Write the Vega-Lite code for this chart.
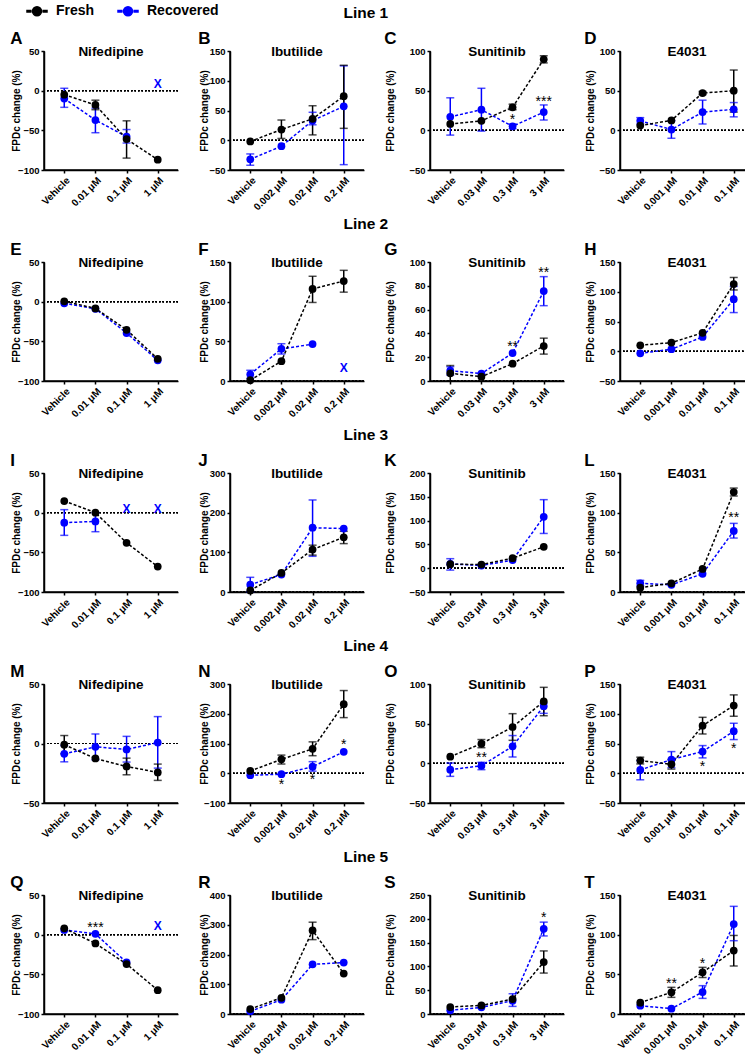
{
"$schema":"https://vega.github.io/schema/vega-lite/v6.json",
"background":"white",
"padding":{"left":10,"top":0,"right":0,"bottom":0},
"spacing":4,
"config":{
 "font":"Liberation Sans",
 "view":{"stroke":"black","strokeWidth":1.5,"strokeDash":[0,253,253,0]},
 "title":{"color":"black","fontWeight":"bold","font":"Liberation Sans"},
 "axis":{"domain":true,"ticks":true,"domainColor":"black","domainWidth":1.5,"tickColor":"black","tickWidth":1.5,"tickSize":3,"labelColor":"black","labelFontWeight":"bold","labelFontSize":9.5,"labelFont":"Liberation Sans","titleFont":"Liberation Sans","titleFontWeight":"bold","titleFontSize":10,"titleColor":"black","grid":false,"labelPadding":2,"labelOverlap":false,"labelBound":false,"labelFlush":false,"zindex":1},
 "axisX":{"labelAngle":-45,"labelFontSize":10,"domain":true,"domainColor":"black","domainWidth":1.5,"ticks":true,"tickColor":"black","tickWidth":1.5,"tickSize":3},
 "axisY":{"domain":true,"domainColor":"black","domainWidth":1.5,"ticks":true,"tickColor":"black","tickWidth":1.5,"tickSize":3},
 "line":{"strokeDash":[3,2],"strokeWidth":1.5},
 "circle":{"size":60,"opacity":1},
 "rule":{"strokeWidth":1.5},
 "legend":{"direction":"horizontal","labelFontSize":14,"labelFontWeight":"bold","labelFont":"Liberation Sans","labelColor":"black","symbolType":"M-1,-0.08H-0.62V0.08H-1Z M0.62,-0.08H1V0.08H0.62Z M-0.45,0A0.45,0.45,0,1,1,0.45,0A0.45,0.45,0,1,1,-0.45,0Z","symbolSize":400,"symbolStrokeWidth":0,"columnPadding":20,"labelOffset":8,"padding":0}
},
"datasets":{
"pts":[
{"p":"A","g":"Recovered","d":"Vehicle","v":-10,"lo":-21,"hi":3},
{"p":"A","g":"Recovered","d":"0.01 μM","v":-37,"lo":-53,"hi":-22},
{"p":"A","g":"Recovered","d":"0.1 μM","v":-58,"lo":-66,"hi":-49},
{"p":"A","g":"Fresh","d":"Vehicle","v":-5},
{"p":"A","g":"Fresh","d":"0.01 μM","v":-18,"lo":-24,"hi":-12},
{"p":"A","g":"Fresh","d":"0.1 μM","v":-61,"lo":-85,"hi":-38},
{"p":"A","g":"Fresh","d":"1 μM","v":-87},
{"p":"B","g":"Recovered","d":"Vehicle","v":-32,"lo":-42,"hi":-23},
{"p":"B","g":"Recovered","d":"0.002 μM","v":-10},
{"p":"B","g":"Recovered","d":"0.02 μM","v":33,"lo":26,"hi":47},
{"p":"B","g":"Recovered","d":"0.2 μM","v":57,"lo":-41,"hi":125},
{"p":"B","g":"Fresh","d":"Vehicle","v":-2},
{"p":"B","g":"Fresh","d":"0.002 μM","v":18,"lo":3,"hi":34},
{"p":"B","g":"Fresh","d":"0.02 μM","v":36,"lo":9,"hi":58},
{"p":"B","g":"Fresh","d":"0.2 μM","v":74,"lo":20,"hi":126},
{"p":"C","g":"Recovered","d":"Vehicle","v":17,"lo":-6,"hi":41},
{"p":"C","g":"Recovered","d":"0.03 μM","v":26,"lo":-1,"hi":53},
{"p":"C","g":"Recovered","d":"0.3 μM","v":5,"lo":2,"hi":8},
{"p":"C","g":"Recovered","d":"3 μM","v":23,"lo":13,"hi":32},
{"p":"C","g":"Fresh","d":"Vehicle","v":8},
{"p":"C","g":"Fresh","d":"0.03 μM","v":12},
{"p":"C","g":"Fresh","d":"0.3 μM","v":29,"lo":26,"hi":33},
{"p":"C","g":"Fresh","d":"3 μM","v":89.5,"lo":85,"hi":94},
{"p":"D","g":"Recovered","d":"Vehicle","v":12,"lo":8,"hi":16},
{"p":"D","g":"Recovered","d":"0.001 μM","v":1,"lo":-10,"hi":12},
{"p":"D","g":"Recovered","d":"0.01 μM","v":23,"lo":8,"hi":38},
{"p":"D","g":"Recovered","d":"0.1 μM","v":26.5,"lo":17,"hi":35},
{"p":"D","g":"Fresh","d":"Vehicle","v":6},
{"p":"D","g":"Fresh","d":"0.001 μM","v":12.5},
{"p":"D","g":"Fresh","d":"0.01 μM","v":47,"lo":45,"hi":49},
{"p":"D","g":"Fresh","d":"0.1 μM","v":50,"lo":23,"hi":76},
{"p":"E","g":"Recovered","d":"Vehicle","v":-2},
{"p":"E","g":"Recovered","d":"0.01 μM","v":-9},
{"p":"E","g":"Recovered","d":"0.1 μM","v":-39.5},
{"p":"E","g":"Recovered","d":"1 μM","v":-74},
{"p":"E","g":"Fresh","d":"Vehicle","v":0.5},
{"p":"E","g":"Fresh","d":"0.01 μM","v":-8.5},
{"p":"E","g":"Fresh","d":"0.1 μM","v":-35.5},
{"p":"E","g":"Fresh","d":"1 μM","v":-72},
{"p":"F","g":"Recovered","d":"Vehicle","v":8.5,"lo":3.4,"hi":13.5},
{"p":"F","g":"Recovered","d":"0.002 μM","v":40.5,"lo":34,"hi":47},
{"p":"F","g":"Recovered","d":"0.02 μM","v":46.5},
{"p":"F","g":"Fresh","d":"Vehicle","v":1},
{"p":"F","g":"Fresh","d":"0.002 μM","v":25},
{"p":"F","g":"Fresh","d":"0.02 μM","v":116,"lo":99,"hi":132},
{"p":"F","g":"Fresh","d":"0.2 μM","v":126,"lo":112,"hi":139.5},
{"p":"G","g":"Recovered","d":"Vehicle","v":8.7,"lo":5,"hi":12},
{"p":"G","g":"Recovered","d":"0.03 μM","v":6.2},
{"p":"G","g":"Recovered","d":"0.3 μM","v":23.5},
{"p":"G","g":"Recovered","d":"3 μM","v":75.6,"lo":63.3,"hi":87.7},
{"p":"G","g":"Fresh","d":"Vehicle","v":6.5,"lo":0,"hi":13},
{"p":"G","g":"Fresh","d":"0.03 μM","v":3.6},
{"p":"G","g":"Fresh","d":"0.3 μM","v":14.6},
{"p":"G","g":"Fresh","d":"3 μM","v":29.4,"lo":22.6,"hi":36},
{"p":"H","g":"Recovered","d":"Vehicle","v":-3.5},
{"p":"H","g":"Recovered","d":"0.001 μM","v":3.4},
{"p":"H","g":"Recovered","d":"0.01 μM","v":24},
{"p":"H","g":"Recovered","d":"0.1 μM","v":87.4,"lo":65,"hi":109},
{"p":"H","g":"Fresh","d":"Vehicle","v":10},
{"p":"H","g":"Fresh","d":"0.001 μM","v":14.5},
{"p":"H","g":"Fresh","d":"0.01 μM","v":31},
{"p":"H","g":"Fresh","d":"0.1 μM","v":113,"lo":103,"hi":124},
{"p":"I","g":"Recovered","d":"Vehicle","v":-12.6,"lo":-28.6,"hi":3.8},
{"p":"I","g":"Recovered","d":"0.01 μM","v":-11,"lo":-24,"hi":0},
{"p":"I","g":"Fresh","d":"Vehicle","v":14.7},
{"p":"I","g":"Fresh","d":"0.01 μM","v":0},
{"p":"I","g":"Fresh","d":"0.1 μM","v":-38},
{"p":"I","g":"Fresh","d":"1 μM","v":-68},
{"p":"J","g":"Recovered","d":"Vehicle","v":18.5,"lo":0,"hi":37},
{"p":"J","g":"Recovered","d":"0.002 μM","v":44},
{"p":"J","g":"Recovered","d":"0.02 μM","v":162,"lo":90,"hi":232},
{"p":"J","g":"Recovered","d":"0.2 μM","v":160},
{"p":"J","g":"Fresh","d":"Vehicle","v":4},
{"p":"J","g":"Fresh","d":"0.002 μM","v":48},
{"p":"J","g":"Fresh","d":"0.02 μM","v":107,"lo":93,"hi":118},
{"p":"J","g":"Fresh","d":"0.2 μM","v":138,"lo":122,"hi":153},
{"p":"K","g":"Recovered","d":"Vehicle","v":9,"lo":-4,"hi":20},
{"p":"K","g":"Recovered","d":"0.03 μM","v":5.6},
{"p":"K","g":"Recovered","d":"0.3 μM","v":17},
{"p":"K","g":"Recovered","d":"3 μM","v":108,"lo":73,"hi":144},
{"p":"K","g":"Fresh","d":"Vehicle","v":8.4},
{"p":"K","g":"Fresh","d":"0.03 μM","v":7.7},
{"p":"K","g":"Fresh","d":"0.3 μM","v":21},
{"p":"K","g":"Fresh","d":"3 μM","v":45},
{"p":"L","g":"Recovered","d":"Vehicle","v":11,"lo":7.5,"hi":14.7},
{"p":"L","g":"Recovered","d":"0.001 μM","v":9},
{"p":"L","g":"Recovered","d":"0.01 μM","v":23},
{"p":"L","g":"Recovered","d":"0.1 μM","v":77,"lo":68,"hi":86.5},
{"p":"L","g":"Fresh","d":"Vehicle","v":5.5},
{"p":"L","g":"Fresh","d":"0.001 μM","v":11},
{"p":"L","g":"Fresh","d":"0.01 μM","v":29},
{"p":"L","g":"Fresh","d":"0.1 μM","v":126,"lo":121,"hi":131},
{"p":"M","g":"Recovered","d":"Vehicle","v":-8.7,"lo":-15.4,"hi":-1.7},
{"p":"M","g":"Recovered","d":"0.01 μM","v":-2.8,"lo":-13.7,"hi":8},
{"p":"M","g":"Recovered","d":"0.1 μM","v":-5,"lo":-15.6,"hi":6},
{"p":"M","g":"Recovered","d":"1 μM","v":0.8,"lo":-20.7,"hi":22.6},
{"p":"M","g":"Fresh","d":"Vehicle","v":-1,"lo":-8.7,"hi":6.7},
{"p":"M","g":"Fresh","d":"0.01 μM","v":-12.6},
{"p":"M","g":"Fresh","d":"0.1 μM","v":-19.3,"lo":-26.3,"hi":-12.3},
{"p":"M","g":"Fresh","d":"1 μM","v":-24.3,"lo":-31,"hi":-17.3},
{"p":"N","g":"Recovered","d":"Vehicle","v":-6.7},
{"p":"N","g":"Recovered","d":"0.002 μM","v":-3.3},
{"p":"N","g":"Recovered","d":"0.02 μM","v":22,"lo":7,"hi":39},
{"p":"N","g":"Recovered","d":"0.2 μM","v":72},
{"p":"N","g":"Fresh","d":"Vehicle","v":7.7},
{"p":"N","g":"Fresh","d":"0.002 μM","v":46.7,"lo":31,"hi":61},
{"p":"N","g":"Fresh","d":"0.02 μM","v":82,"lo":59,"hi":105.5},
{"p":"N","g":"Fresh","d":"0.2 μM","v":232,"lo":187,"hi":278},
{"p":"O","g":"Recovered","d":"Vehicle","v":-8,"lo":-16.4,"hi":0.4},
{"p":"O","g":"Recovered","d":"0.03 μM","v":-3,"lo":-8,"hi":1.3},
{"p":"O","g":"Recovered","d":"0.3 μM","v":21.4,"lo":8,"hi":35},
{"p":"O","g":"Recovered","d":"3 μM","v":72,"lo":63,"hi":76},
{"p":"O","g":"Fresh","d":"Vehicle","v":8.4},
{"p":"O","g":"Fresh","d":"0.03 μM","v":24.8,"lo":19.7,"hi":30},
{"p":"O","g":"Fresh","d":"0.3 μM","v":45.8,"lo":29,"hi":62.6},
{"p":"O","g":"Fresh","d":"3 μM","v":78,"lo":60,"hi":95.8},
{"p":"P","g":"Recovered","d":"Vehicle","v":5.6,"lo":-11,"hi":21.3},
{"p":"P","g":"Recovered","d":"0.001 μM","v":23,"lo":9.5,"hi":36.4},
{"p":"P","g":"Recovered","d":"0.01 μM","v":36.4,"lo":25.8,"hi":46.5},
{"p":"P","g":"Recovered","d":"0.1 μM","v":70.6,"lo":56.6,"hi":84},
{"p":"P","g":"Fresh","d":"Vehicle","v":21.3,"lo":15.7,"hi":27},
{"p":"P","g":"Fresh","d":"0.001 μM","v":15,"lo":7,"hi":23},
{"p":"P","g":"Fresh","d":"0.01 μM","v":80,"lo":66,"hi":94},
{"p":"P","g":"Fresh","d":"0.1 μM","v":113.7,"lo":95.8,"hi":131.7},
{"p":"Q","g":"Recovered","d":"Vehicle","v":6},
{"p":"Q","g":"Recovered","d":"0.01 μM","v":1},
{"p":"Q","g":"Recovered","d":"0.1 μM","v":-35},
{"p":"Q","g":"Fresh","d":"Vehicle","v":8},
{"p":"Q","g":"Fresh","d":"0.01 μM","v":-11},
{"p":"Q","g":"Fresh","d":"0.1 μM","v":-37},
{"p":"Q","g":"Fresh","d":"1 μM","v":-70},
{"p":"R","g":"Recovered","d":"Vehicle","v":9},
{"p":"R","g":"Recovered","d":"0.002 μM","v":48},
{"p":"R","g":"Recovered","d":"0.02 μM","v":167},
{"p":"R","g":"Recovered","d":"0.2 μM","v":172.7},
{"p":"R","g":"Fresh","d":"Vehicle","v":16.7},
{"p":"R","g":"Fresh","d":"0.002 μM","v":54.6},
{"p":"R","g":"Fresh","d":"0.02 μM","v":280.8,"lo":250,"hi":308.6},
{"p":"R","g":"Fresh","d":"0.2 μM","v":136},
{"p":"S","g":"Recovered","d":"Vehicle","v":7.7},
{"p":"S","g":"Recovered","d":"0.03 μM","v":14},
{"p":"S","g":"Recovered","d":"0.3 μM","v":28,"lo":16,"hi":42.6},
{"p":"S","g":"Recovered","d":"3 μM","v":179,"lo":164,"hi":193},
{"p":"S","g":"Fresh","d":"Vehicle","v":14.7},
{"p":"S","g":"Fresh","d":"0.03 μM","v":18},
{"p":"S","g":"Fresh","d":"0.3 μM","v":31.4},
{"p":"S","g":"Fresh","d":"3 μM","v":109,"lo":86,"hi":132.5},
{"p":"T","g":"Recovered","d":"Vehicle","v":10.5},
{"p":"T","g":"Recovered","d":"0.001 μM","v":6.7},
{"p":"T","g":"Recovered","d":"0.01 μM","v":27.7,"lo":19.7,"hi":35.7},
{"p":"T","g":"Recovered","d":"0.1 μM","v":113.4,"lo":92.4,"hi":135.7},
{"p":"T","g":"Fresh","d":"Vehicle","v":14.3},
{"p":"T","g":"Fresh","d":"0.001 μM","v":27.3,"lo":21,"hi":33.6},
{"p":"T","g":"Fresh","d":"0.01 μM","v":52.5,"lo":46,"hi":58.8},
{"p":"T","g":"Fresh","d":"0.1 μM","v":80,"lo":60.5,"hi":99}
],
"xs":[
{"p":"A","d":"1 μM","v":8},
{"p":"F","d":"0.2 μM","v":16},
{"p":"I","d":"0.1 μM","v":5},
{"p":"I","d":"1 μM","v":5},
{"p":"Q","d":"1 μM","v":10.5}
],
"stars":[
{"p":"C","d":"0.3 μM","v":17,"s":"*"},
{"p":"C","d":"3 μM","v":40,"s":"***"},
{"p":"G","d":"0.3 μM","v":31,"s":"**"},
{"p":"G","d":"3 μM","v":93,"s":"**"},
{"p":"L","d":"0.1 μM","v":97,"s":"**"},
{"p":"N","d":"0.002 μM","v":-29,"s":"*"},
{"p":"N","d":"0.02 μM","v":-13,"s":"*"},
{"p":"N","d":"0.2 μM","v":105,"s":"*"},
{"p":"O","d":"0.03 μM","v":10,"s":"**"},
{"p":"P","d":"0.01 μM","v":15.7,"s":"*"},
{"p":"P","d":"0.1 μM","v":46.5,"s":"*"},
{"p":"Q","d":"0.01 μM","v":12,"s":"***"},
{"p":"S","d":"3 μM","v":208,"s":"*"},
{"p":"T","d":"0.001 μM","v":41,"s":"**"},
{"p":"T","d":"0.01 μM","v":66.4,"s":"*"}
]
},
"vconcat":[
{"title":{"text":"Line 1","fontSize":15.5,"offset":8,"dx":-17,"anchor":"middle","frame":"bounds"},"spacing":18,"hconcat":[
{"title":{"text":"A","anchor":"start","frame":"bounds","fontSize":17,"offset":-4},"vconcat":[{"title":{"text":"Nifedipine","anchor":"middle","fontSize":13.5,"offset":-12},"width":134,"height":119,"data":{"name":"pts"},"transform":[{"filter":"datum.p==='A'"}],
"encoding":{"color":{"field":"g","type":"nominal","title":null,"scale":{"domain":["Fresh","Recovered"],"range":["#000000","#0000ff"]},"legend":{"orient":"none","legendX":-18,"legendY":-51,"direction":"horizontal"}}},
"layer":[
{"mark":{"type":"rule","strokeDash":[1.5,2],"strokeWidth":1.2},"encoding":{"y":{"datum":0,"type":"quantitative","scale":{"domain":[-100,50],"nice":false,"zero":false},"axis":{"title":"FPDc change (%)","values":[-100,-50,0,50],"tickCount":10,"domain":true,"ticks":true,"minExtent":22,"maxExtent":22,"titlePadding":1}},"color":{"value":"black"}}},
{"mark":"rule","encoding":{"x":{"field":"d","type":"ordinal","title":null,"scale":{"type":"point","padding":0.65,"domain":["Vehicle","0.01 μM","0.1 μM","1 μM"]}},"y":{"field":"lo","type":"quantitative"},"y2":{"field":"hi"}}},
{"mark":{"type":"tick","size":8,"thickness":1.5},"encoding":{"x":{"field":"d","type":"ordinal","title":null,"scale":{"type":"point","padding":0.65,"domain":["Vehicle","0.01 μM","0.1 μM","1 μM"]}},"y":{"field":"lo","type":"quantitative"}}},
{"mark":{"type":"tick","size":8,"thickness":1.5},"encoding":{"x":{"field":"d","type":"ordinal","title":null,"scale":{"type":"point","padding":0.65,"domain":["Vehicle","0.01 μM","0.1 μM","1 μM"]}},"y":{"field":"hi","type":"quantitative"}}},
{"mark":"line","encoding":{"x":{"field":"d","type":"ordinal","title":null,"scale":{"type":"point","padding":0.65,"domain":["Vehicle","0.01 μM","0.1 μM","1 μM"]}},"y":{"field":"v","type":"quantitative"}}},
{"mark":"circle","encoding":{"x":{"field":"d","type":"ordinal","title":null,"scale":{"type":"point","padding":0.65,"domain":["Vehicle","0.01 μM","0.1 μM","1 μM"]},"axis":{"domain":true,"ticks":true}},"y":{"field":"v","type":"quantitative"}}},
{"data":{"name":"xs"},"transform":[{"filter":"datum.p==='A'"}],"mark":{"type":"text","text":"X","fontSize":12,"fontWeight":"bold","baseline":"middle"},"encoding":{"x":{"field":"d","type":"ordinal","title":null,"scale":{"type":"point","padding":0.65,"domain":["Vehicle","0.01 μM","0.1 μM","1 μM"]}},"y":{"field":"v","type":"quantitative"},"color":{"value":"#0000ff"}}}
]}]},
{"title":{"text":"B","anchor":"start","frame":"bounds","fontSize":17,"offset":-4},"vconcat":[{"title":{"text":"Ibutilide","anchor":"middle","fontSize":13.5,"offset":-12},"width":134,"height":119,"data":{"name":"pts"},"transform":[{"filter":"datum.p==='B'"}],
"encoding":{"color":{"field":"g","type":"nominal","title":null,"scale":{"domain":["Fresh","Recovered"],"range":["#000000","#0000ff"]}}},
"layer":[
{"mark":{"type":"rule","strokeDash":[1.5,2],"strokeWidth":1.2},"encoding":{"y":{"datum":0,"type":"quantitative","scale":{"domain":[-50,150],"nice":false,"zero":false},"axis":{"title":"FPDc change (%)","values":[-50,0,50,100,150],"tickCount":10,"domain":true,"ticks":true,"minExtent":21,"maxExtent":21,"titlePadding":0}},"color":{"value":"black"}}},
{"mark":"rule","encoding":{"x":{"field":"d","type":"ordinal","title":null,"scale":{"type":"point","padding":0.65,"domain":["Vehicle","0.002 μM","0.02 μM","0.2 μM"]}},"y":{"field":"lo","type":"quantitative"},"y2":{"field":"hi"}}},
{"mark":{"type":"tick","size":8,"thickness":1.5},"encoding":{"x":{"field":"d","type":"ordinal","title":null,"scale":{"type":"point","padding":0.65,"domain":["Vehicle","0.002 μM","0.02 μM","0.2 μM"]}},"y":{"field":"lo","type":"quantitative"}}},
{"mark":{"type":"tick","size":8,"thickness":1.5},"encoding":{"x":{"field":"d","type":"ordinal","title":null,"scale":{"type":"point","padding":0.65,"domain":["Vehicle","0.002 μM","0.02 μM","0.2 μM"]}},"y":{"field":"hi","type":"quantitative"}}},
{"mark":"line","encoding":{"x":{"field":"d","type":"ordinal","title":null,"scale":{"type":"point","padding":0.65,"domain":["Vehicle","0.002 μM","0.02 μM","0.2 μM"]}},"y":{"field":"v","type":"quantitative"}}},
{"mark":"circle","encoding":{"x":{"field":"d","type":"ordinal","title":null,"scale":{"type":"point","padding":0.65,"domain":["Vehicle","0.002 μM","0.02 μM","0.2 μM"]},"axis":{"domain":true,"ticks":true}},"y":{"field":"v","type":"quantitative"}}}
]}]},
{"title":{"text":"C","anchor":"start","frame":"bounds","fontSize":17,"offset":-4},"vconcat":[{"title":{"text":"Sunitinib","anchor":"middle","fontSize":13.5,"offset":-12},"width":134,"height":119,"data":{"name":"pts"},"transform":[{"filter":"datum.p==='C'"}],
"encoding":{"color":{"field":"g","type":"nominal","title":null,"scale":{"domain":["Fresh","Recovered"],"range":["#000000","#0000ff"]}}},
"layer":[
{"mark":{"type":"rule","strokeDash":[1.5,2],"strokeWidth":1.2},"encoding":{"y":{"datum":0,"type":"quantitative","scale":{"domain":[-50,100],"nice":false,"zero":false},"axis":{"title":"FPDc change (%)","values":[-50,0,50,100],"tickCount":10,"domain":true,"ticks":true,"minExtent":20,"maxExtent":20,"titlePadding":15}},"color":{"value":"black"}}},
{"mark":"rule","encoding":{"x":{"field":"d","type":"ordinal","title":null,"scale":{"type":"point","padding":0.65,"domain":["Vehicle","0.03 μM","0.3 μM","3 μM"]}},"y":{"field":"lo","type":"quantitative"},"y2":{"field":"hi"}}},
{"mark":{"type":"tick","size":8,"thickness":1.5},"encoding":{"x":{"field":"d","type":"ordinal","title":null,"scale":{"type":"point","padding":0.65,"domain":["Vehicle","0.03 μM","0.3 μM","3 μM"]}},"y":{"field":"lo","type":"quantitative"}}},
{"mark":{"type":"tick","size":8,"thickness":1.5},"encoding":{"x":{"field":"d","type":"ordinal","title":null,"scale":{"type":"point","padding":0.65,"domain":["Vehicle","0.03 μM","0.3 μM","3 μM"]}},"y":{"field":"hi","type":"quantitative"}}},
{"mark":"line","encoding":{"x":{"field":"d","type":"ordinal","title":null,"scale":{"type":"point","padding":0.65,"domain":["Vehicle","0.03 μM","0.3 μM","3 μM"]}},"y":{"field":"v","type":"quantitative"}}},
{"mark":"circle","encoding":{"x":{"field":"d","type":"ordinal","title":null,"scale":{"type":"point","padding":0.65,"domain":["Vehicle","0.03 μM","0.3 μM","3 μM"]},"axis":{"domain":true,"ticks":true}},"y":{"field":"v","type":"quantitative"}}},
{"data":{"name":"stars"},"transform":[{"filter":"datum.p==='C'"}],"mark":{"type":"text","fontSize":14,"baseline":"middle","dy":3},"encoding":{"x":{"field":"d","type":"ordinal","title":null,"scale":{"type":"point","padding":0.65,"domain":["Vehicle","0.03 μM","0.3 μM","3 μM"]}},"y":{"field":"v","type":"quantitative"},"text":{"field":"s"},"color":{"value":"black"}}}
]}]},
{"title":{"text":"D","anchor":"start","frame":"bounds","fontSize":17,"offset":-4},"vconcat":[{"title":{"text":"E4031","anchor":"middle","fontSize":13.5,"offset":-12},"width":134,"height":119,"data":{"name":"pts"},"transform":[{"filter":"datum.p==='D'"}],
"encoding":{"color":{"field":"g","type":"nominal","title":null,"scale":{"domain":["Fresh","Recovered"],"range":["#000000","#0000ff"]}}},
"layer":[
{"mark":{"type":"rule","strokeDash":[1.5,2],"strokeWidth":1.2},"encoding":{"y":{"datum":0,"type":"quantitative","scale":{"domain":[-50,100],"nice":false,"zero":false},"axis":{"title":"FPDc change (%)","values":[-50,0,50,100],"tickCount":10,"domain":true,"ticks":true,"minExtent":21,"maxExtent":21,"titlePadding":4}},"color":{"value":"black"}}},
{"mark":"rule","encoding":{"x":{"field":"d","type":"ordinal","title":null,"scale":{"type":"point","padding":0.65,"domain":["Vehicle","0.001 μM","0.01 μM","0.1 μM"]}},"y":{"field":"lo","type":"quantitative"},"y2":{"field":"hi"}}},
{"mark":{"type":"tick","size":8,"thickness":1.5},"encoding":{"x":{"field":"d","type":"ordinal","title":null,"scale":{"type":"point","padding":0.65,"domain":["Vehicle","0.001 μM","0.01 μM","0.1 μM"]}},"y":{"field":"lo","type":"quantitative"}}},
{"mark":{"type":"tick","size":8,"thickness":1.5},"encoding":{"x":{"field":"d","type":"ordinal","title":null,"scale":{"type":"point","padding":0.65,"domain":["Vehicle","0.001 μM","0.01 μM","0.1 μM"]}},"y":{"field":"hi","type":"quantitative"}}},
{"mark":"line","encoding":{"x":{"field":"d","type":"ordinal","title":null,"scale":{"type":"point","padding":0.65,"domain":["Vehicle","0.001 μM","0.01 μM","0.1 μM"]}},"y":{"field":"v","type":"quantitative"}}},
{"mark":"circle","encoding":{"x":{"field":"d","type":"ordinal","title":null,"scale":{"type":"point","padding":0.65,"domain":["Vehicle","0.001 μM","0.01 μM","0.1 μM"]},"axis":{"domain":true,"ticks":true}},"y":{"field":"v","type":"quantitative"}}}
]}]}
]},
{"title":{"text":"Line 2","fontSize":15.5,"offset":8,"dx":-17,"anchor":"middle","frame":"bounds"},"spacing":18,"hconcat":[
{"title":{"text":"E","anchor":"start","frame":"bounds","fontSize":17,"offset":-4},"vconcat":[{"title":{"text":"Nifedipine","anchor":"middle","fontSize":13.5,"offset":-12},"width":134,"height":119,"data":{"name":"pts"},"transform":[{"filter":"datum.p==='E'"}],
"encoding":{"color":{"field":"g","type":"nominal","title":null,"scale":{"domain":["Fresh","Recovered"],"range":["#000000","#0000ff"]}}},
"layer":[
{"mark":{"type":"rule","strokeDash":[1.5,2],"strokeWidth":1.2},"encoding":{"y":{"datum":0,"type":"quantitative","scale":{"domain":[-100,50],"nice":false,"zero":false},"axis":{"title":"FPDc change (%)","values":[-100,-50,0,50],"tickCount":10,"domain":true,"ticks":true,"minExtent":22,"maxExtent":22,"titlePadding":1}},"color":{"value":"black"}}},
{"mark":"line","encoding":{"x":{"field":"d","type":"ordinal","title":null,"scale":{"type":"point","padding":0.65,"domain":["Vehicle","0.01 μM","0.1 μM","1 μM"]}},"y":{"field":"v","type":"quantitative"}}},
{"mark":"circle","encoding":{"x":{"field":"d","type":"ordinal","title":null,"scale":{"type":"point","padding":0.65,"domain":["Vehicle","0.01 μM","0.1 μM","1 μM"]},"axis":{"domain":true,"ticks":true}},"y":{"field":"v","type":"quantitative"}}}
]}]},
{"title":{"text":"F","anchor":"start","frame":"bounds","fontSize":17,"offset":-4},"vconcat":[{"title":{"text":"Ibutilide","anchor":"middle","fontSize":13.5,"offset":-12},"width":134,"height":119,"data":{"name":"pts"},"transform":[{"filter":"datum.p==='F'"}],
"encoding":{"color":{"field":"g","type":"nominal","title":null,"scale":{"domain":["Fresh","Recovered"],"range":["#000000","#0000ff"]}}},
"layer":[
{"mark":{"type":"rule","strokeDash":[1.5,2],"strokeWidth":1.2},"encoding":{"y":{"datum":0,"type":"quantitative","scale":{"domain":[0,150],"nice":false,"zero":false},"axis":{"title":"FPDc change (%)","values":[0,50,100,150],"tickCount":10,"domain":true,"ticks":true,"minExtent":21,"maxExtent":21,"titlePadding":0}},"color":{"value":"black"}}},
{"mark":"rule","encoding":{"x":{"field":"d","type":"ordinal","title":null,"scale":{"type":"point","padding":0.65,"domain":["Vehicle","0.002 μM","0.02 μM","0.2 μM"]}},"y":{"field":"lo","type":"quantitative"},"y2":{"field":"hi"}}},
{"mark":{"type":"tick","size":8,"thickness":1.5},"encoding":{"x":{"field":"d","type":"ordinal","title":null,"scale":{"type":"point","padding":0.65,"domain":["Vehicle","0.002 μM","0.02 μM","0.2 μM"]}},"y":{"field":"lo","type":"quantitative"}}},
{"mark":{"type":"tick","size":8,"thickness":1.5},"encoding":{"x":{"field":"d","type":"ordinal","title":null,"scale":{"type":"point","padding":0.65,"domain":["Vehicle","0.002 μM","0.02 μM","0.2 μM"]}},"y":{"field":"hi","type":"quantitative"}}},
{"mark":"line","encoding":{"x":{"field":"d","type":"ordinal","title":null,"scale":{"type":"point","padding":0.65,"domain":["Vehicle","0.002 μM","0.02 μM","0.2 μM"]}},"y":{"field":"v","type":"quantitative"}}},
{"mark":"circle","encoding":{"x":{"field":"d","type":"ordinal","title":null,"scale":{"type":"point","padding":0.65,"domain":["Vehicle","0.002 μM","0.02 μM","0.2 μM"]},"axis":{"domain":true,"ticks":true}},"y":{"field":"v","type":"quantitative"}}},
{"data":{"name":"xs"},"transform":[{"filter":"datum.p==='F'"}],"mark":{"type":"text","text":"X","fontSize":12,"fontWeight":"bold","baseline":"middle"},"encoding":{"x":{"field":"d","type":"ordinal","title":null,"scale":{"type":"point","padding":0.65,"domain":["Vehicle","0.002 μM","0.02 μM","0.2 μM"]}},"y":{"field":"v","type":"quantitative"},"color":{"value":"#0000ff"}}}
]}]},
{"title":{"text":"G","anchor":"start","frame":"bounds","fontSize":17,"offset":-4},"vconcat":[{"title":{"text":"Sunitinib","anchor":"middle","fontSize":13.5,"offset":-12},"width":134,"height":119,"data":{"name":"pts"},"transform":[{"filter":"datum.p==='G'"}],
"encoding":{"color":{"field":"g","type":"nominal","title":null,"scale":{"domain":["Fresh","Recovered"],"range":["#000000","#0000ff"]}}},
"layer":[
{"mark":{"type":"rule","strokeDash":[1.5,2],"strokeWidth":1.2},"encoding":{"y":{"datum":0,"type":"quantitative","scale":{"domain":[0,100],"nice":false,"zero":false},"axis":{"title":"FPDc change (%)","values":[0,20,40,60,80,100],"tickCount":10,"domain":true,"ticks":true,"minExtent":20,"maxExtent":20,"titlePadding":15}},"color":{"value":"black"}}},
{"mark":"rule","encoding":{"x":{"field":"d","type":"ordinal","title":null,"scale":{"type":"point","padding":0.65,"domain":["Vehicle","0.03 μM","0.3 μM","3 μM"]}},"y":{"field":"lo","type":"quantitative"},"y2":{"field":"hi"}}},
{"mark":{"type":"tick","size":8,"thickness":1.5},"encoding":{"x":{"field":"d","type":"ordinal","title":null,"scale":{"type":"point","padding":0.65,"domain":["Vehicle","0.03 μM","0.3 μM","3 μM"]}},"y":{"field":"lo","type":"quantitative"}}},
{"mark":{"type":"tick","size":8,"thickness":1.5},"encoding":{"x":{"field":"d","type":"ordinal","title":null,"scale":{"type":"point","padding":0.65,"domain":["Vehicle","0.03 μM","0.3 μM","3 μM"]}},"y":{"field":"hi","type":"quantitative"}}},
{"mark":"line","encoding":{"x":{"field":"d","type":"ordinal","title":null,"scale":{"type":"point","padding":0.65,"domain":["Vehicle","0.03 μM","0.3 μM","3 μM"]}},"y":{"field":"v","type":"quantitative"}}},
{"mark":"circle","encoding":{"x":{"field":"d","type":"ordinal","title":null,"scale":{"type":"point","padding":0.65,"domain":["Vehicle","0.03 μM","0.3 μM","3 μM"]},"axis":{"domain":true,"ticks":true}},"y":{"field":"v","type":"quantitative"}}},
{"data":{"name":"stars"},"transform":[{"filter":"datum.p==='G'"}],"mark":{"type":"text","fontSize":14,"baseline":"middle","dy":3},"encoding":{"x":{"field":"d","type":"ordinal","title":null,"scale":{"type":"point","padding":0.65,"domain":["Vehicle","0.03 μM","0.3 μM","3 μM"]}},"y":{"field":"v","type":"quantitative"},"text":{"field":"s"},"color":{"value":"black"}}}
]}]},
{"title":{"text":"H","anchor":"start","frame":"bounds","fontSize":17,"offset":-4},"vconcat":[{"title":{"text":"E4031","anchor":"middle","fontSize":13.5,"offset":-12},"width":134,"height":119,"data":{"name":"pts"},"transform":[{"filter":"datum.p==='H'"}],
"encoding":{"color":{"field":"g","type":"nominal","title":null,"scale":{"domain":["Fresh","Recovered"],"range":["#000000","#0000ff"]}}},
"layer":[
{"mark":{"type":"rule","strokeDash":[1.5,2],"strokeWidth":1.2},"encoding":{"y":{"datum":0,"type":"quantitative","scale":{"domain":[-50,150],"nice":false,"zero":false},"axis":{"title":"FPDc change (%)","values":[-50,0,50,100,150],"tickCount":10,"domain":true,"ticks":true,"minExtent":21,"maxExtent":21,"titlePadding":4}},"color":{"value":"black"}}},
{"mark":"rule","encoding":{"x":{"field":"d","type":"ordinal","title":null,"scale":{"type":"point","padding":0.65,"domain":["Vehicle","0.001 μM","0.01 μM","0.1 μM"]}},"y":{"field":"lo","type":"quantitative"},"y2":{"field":"hi"}}},
{"mark":{"type":"tick","size":8,"thickness":1.5},"encoding":{"x":{"field":"d","type":"ordinal","title":null,"scale":{"type":"point","padding":0.65,"domain":["Vehicle","0.001 μM","0.01 μM","0.1 μM"]}},"y":{"field":"lo","type":"quantitative"}}},
{"mark":{"type":"tick","size":8,"thickness":1.5},"encoding":{"x":{"field":"d","type":"ordinal","title":null,"scale":{"type":"point","padding":0.65,"domain":["Vehicle","0.001 μM","0.01 μM","0.1 μM"]}},"y":{"field":"hi","type":"quantitative"}}},
{"mark":"line","encoding":{"x":{"field":"d","type":"ordinal","title":null,"scale":{"type":"point","padding":0.65,"domain":["Vehicle","0.001 μM","0.01 μM","0.1 μM"]}},"y":{"field":"v","type":"quantitative"}}},
{"mark":"circle","encoding":{"x":{"field":"d","type":"ordinal","title":null,"scale":{"type":"point","padding":0.65,"domain":["Vehicle","0.001 μM","0.01 μM","0.1 μM"]},"axis":{"domain":true,"ticks":true}},"y":{"field":"v","type":"quantitative"}}}
]}]}
]},
{"title":{"text":"Line 3","fontSize":15.5,"offset":8,"dx":-17,"anchor":"middle","frame":"bounds"},"spacing":18,"hconcat":[
{"title":{"text":"I","anchor":"start","frame":"bounds","fontSize":17,"offset":-4},"vconcat":[{"title":{"text":"Nifedipine","anchor":"middle","fontSize":13.5,"offset":-12},"width":134,"height":119,"data":{"name":"pts"},"transform":[{"filter":"datum.p==='I'"}],
"encoding":{"color":{"field":"g","type":"nominal","title":null,"scale":{"domain":["Fresh","Recovered"],"range":["#000000","#0000ff"]}}},
"layer":[
{"mark":{"type":"rule","strokeDash":[1.5,2],"strokeWidth":1.2},"encoding":{"y":{"datum":0,"type":"quantitative","scale":{"domain":[-100,50],"nice":false,"zero":false},"axis":{"title":"FPDc change (%)","values":[-100,-50,0,50],"tickCount":10,"domain":true,"ticks":true,"minExtent":22,"maxExtent":22,"titlePadding":1}},"color":{"value":"black"}}},
{"mark":"rule","encoding":{"x":{"field":"d","type":"ordinal","title":null,"scale":{"type":"point","padding":0.65,"domain":["Vehicle","0.01 μM","0.1 μM","1 μM"]}},"y":{"field":"lo","type":"quantitative"},"y2":{"field":"hi"}}},
{"mark":{"type":"tick","size":8,"thickness":1.5},"encoding":{"x":{"field":"d","type":"ordinal","title":null,"scale":{"type":"point","padding":0.65,"domain":["Vehicle","0.01 μM","0.1 μM","1 μM"]}},"y":{"field":"lo","type":"quantitative"}}},
{"mark":{"type":"tick","size":8,"thickness":1.5},"encoding":{"x":{"field":"d","type":"ordinal","title":null,"scale":{"type":"point","padding":0.65,"domain":["Vehicle","0.01 μM","0.1 μM","1 μM"]}},"y":{"field":"hi","type":"quantitative"}}},
{"mark":"line","encoding":{"x":{"field":"d","type":"ordinal","title":null,"scale":{"type":"point","padding":0.65,"domain":["Vehicle","0.01 μM","0.1 μM","1 μM"]}},"y":{"field":"v","type":"quantitative"}}},
{"mark":"circle","encoding":{"x":{"field":"d","type":"ordinal","title":null,"scale":{"type":"point","padding":0.65,"domain":["Vehicle","0.01 μM","0.1 μM","1 μM"]},"axis":{"domain":true,"ticks":true}},"y":{"field":"v","type":"quantitative"}}},
{"data":{"name":"xs"},"transform":[{"filter":"datum.p==='I'"}],"mark":{"type":"text","text":"X","fontSize":12,"fontWeight":"bold","baseline":"middle"},"encoding":{"x":{"field":"d","type":"ordinal","title":null,"scale":{"type":"point","padding":0.65,"domain":["Vehicle","0.01 μM","0.1 μM","1 μM"]}},"y":{"field":"v","type":"quantitative"},"color":{"value":"#0000ff"}}}
]}]},
{"title":{"text":"J","anchor":"start","frame":"bounds","fontSize":17,"offset":-4},"vconcat":[{"title":{"text":"Ibutilide","anchor":"middle","fontSize":13.5,"offset":-12},"width":134,"height":119,"data":{"name":"pts"},"transform":[{"filter":"datum.p==='J'"}],
"encoding":{"color":{"field":"g","type":"nominal","title":null,"scale":{"domain":["Fresh","Recovered"],"range":["#000000","#0000ff"]}}},
"layer":[
{"mark":{"type":"rule","strokeDash":[1.5,2],"strokeWidth":1.2},"encoding":{"y":{"datum":0,"type":"quantitative","scale":{"domain":[0,300],"nice":false,"zero":false},"axis":{"title":"FPDc change (%)","values":[0,100,200,300],"tickCount":10,"domain":true,"ticks":true,"minExtent":21,"maxExtent":21,"titlePadding":0}},"color":{"value":"black"}}},
{"mark":"rule","encoding":{"x":{"field":"d","type":"ordinal","title":null,"scale":{"type":"point","padding":0.65,"domain":["Vehicle","0.002 μM","0.02 μM","0.2 μM"]}},"y":{"field":"lo","type":"quantitative"},"y2":{"field":"hi"}}},
{"mark":{"type":"tick","size":8,"thickness":1.5},"encoding":{"x":{"field":"d","type":"ordinal","title":null,"scale":{"type":"point","padding":0.65,"domain":["Vehicle","0.002 μM","0.02 μM","0.2 μM"]}},"y":{"field":"lo","type":"quantitative"}}},
{"mark":{"type":"tick","size":8,"thickness":1.5},"encoding":{"x":{"field":"d","type":"ordinal","title":null,"scale":{"type":"point","padding":0.65,"domain":["Vehicle","0.002 μM","0.02 μM","0.2 μM"]}},"y":{"field":"hi","type":"quantitative"}}},
{"mark":"line","encoding":{"x":{"field":"d","type":"ordinal","title":null,"scale":{"type":"point","padding":0.65,"domain":["Vehicle","0.002 μM","0.02 μM","0.2 μM"]}},"y":{"field":"v","type":"quantitative"}}},
{"mark":"circle","encoding":{"x":{"field":"d","type":"ordinal","title":null,"scale":{"type":"point","padding":0.65,"domain":["Vehicle","0.002 μM","0.02 μM","0.2 μM"]},"axis":{"domain":true,"ticks":true}},"y":{"field":"v","type":"quantitative"}}}
]}]},
{"title":{"text":"K","anchor":"start","frame":"bounds","fontSize":17,"offset":-4},"vconcat":[{"title":{"text":"Sunitinib","anchor":"middle","fontSize":13.5,"offset":-12},"width":134,"height":119,"data":{"name":"pts"},"transform":[{"filter":"datum.p==='K'"}],
"encoding":{"color":{"field":"g","type":"nominal","title":null,"scale":{"domain":["Fresh","Recovered"],"range":["#000000","#0000ff"]}}},
"layer":[
{"mark":{"type":"rule","strokeDash":[1.5,2],"strokeWidth":1.2},"encoding":{"y":{"datum":0,"type":"quantitative","scale":{"domain":[-50,200],"nice":false,"zero":false},"axis":{"title":"FPDc change (%)","values":[-50,0,50,100,150,200],"tickCount":10,"domain":true,"ticks":true,"minExtent":20,"maxExtent":20,"titlePadding":15}},"color":{"value":"black"}}},
{"mark":"rule","encoding":{"x":{"field":"d","type":"ordinal","title":null,"scale":{"type":"point","padding":0.65,"domain":["Vehicle","0.03 μM","0.3 μM","3 μM"]}},"y":{"field":"lo","type":"quantitative"},"y2":{"field":"hi"}}},
{"mark":{"type":"tick","size":8,"thickness":1.5},"encoding":{"x":{"field":"d","type":"ordinal","title":null,"scale":{"type":"point","padding":0.65,"domain":["Vehicle","0.03 μM","0.3 μM","3 μM"]}},"y":{"field":"lo","type":"quantitative"}}},
{"mark":{"type":"tick","size":8,"thickness":1.5},"encoding":{"x":{"field":"d","type":"ordinal","title":null,"scale":{"type":"point","padding":0.65,"domain":["Vehicle","0.03 μM","0.3 μM","3 μM"]}},"y":{"field":"hi","type":"quantitative"}}},
{"mark":"line","encoding":{"x":{"field":"d","type":"ordinal","title":null,"scale":{"type":"point","padding":0.65,"domain":["Vehicle","0.03 μM","0.3 μM","3 μM"]}},"y":{"field":"v","type":"quantitative"}}},
{"mark":"circle","encoding":{"x":{"field":"d","type":"ordinal","title":null,"scale":{"type":"point","padding":0.65,"domain":["Vehicle","0.03 μM","0.3 μM","3 μM"]},"axis":{"domain":true,"ticks":true}},"y":{"field":"v","type":"quantitative"}}}
]}]},
{"title":{"text":"L","anchor":"start","frame":"bounds","fontSize":17,"offset":-4},"vconcat":[{"title":{"text":"E4031","anchor":"middle","fontSize":13.5,"offset":-12},"width":134,"height":119,"data":{"name":"pts"},"transform":[{"filter":"datum.p==='L'"}],
"encoding":{"color":{"field":"g","type":"nominal","title":null,"scale":{"domain":["Fresh","Recovered"],"range":["#000000","#0000ff"]}}},
"layer":[
{"mark":{"type":"rule","strokeDash":[1.5,2],"strokeWidth":1.2},"encoding":{"y":{"datum":0,"type":"quantitative","scale":{"domain":[0,150],"nice":false,"zero":false},"axis":{"title":"FPDc change (%)","values":[0,50,100,150],"tickCount":10,"domain":true,"ticks":true,"minExtent":21,"maxExtent":21,"titlePadding":4}},"color":{"value":"black"}}},
{"mark":"rule","encoding":{"x":{"field":"d","type":"ordinal","title":null,"scale":{"type":"point","padding":0.65,"domain":["Vehicle","0.001 μM","0.01 μM","0.1 μM"]}},"y":{"field":"lo","type":"quantitative"},"y2":{"field":"hi"}}},
{"mark":{"type":"tick","size":8,"thickness":1.5},"encoding":{"x":{"field":"d","type":"ordinal","title":null,"scale":{"type":"point","padding":0.65,"domain":["Vehicle","0.001 μM","0.01 μM","0.1 μM"]}},"y":{"field":"lo","type":"quantitative"}}},
{"mark":{"type":"tick","size":8,"thickness":1.5},"encoding":{"x":{"field":"d","type":"ordinal","title":null,"scale":{"type":"point","padding":0.65,"domain":["Vehicle","0.001 μM","0.01 μM","0.1 μM"]}},"y":{"field":"hi","type":"quantitative"}}},
{"mark":"line","encoding":{"x":{"field":"d","type":"ordinal","title":null,"scale":{"type":"point","padding":0.65,"domain":["Vehicle","0.001 μM","0.01 μM","0.1 μM"]}},"y":{"field":"v","type":"quantitative"}}},
{"mark":"circle","encoding":{"x":{"field":"d","type":"ordinal","title":null,"scale":{"type":"point","padding":0.65,"domain":["Vehicle","0.001 μM","0.01 μM","0.1 μM"]},"axis":{"domain":true,"ticks":true}},"y":{"field":"v","type":"quantitative"}}},
{"data":{"name":"stars"},"transform":[{"filter":"datum.p==='L'"}],"mark":{"type":"text","fontSize":14,"baseline":"middle","dy":3},"encoding":{"x":{"field":"d","type":"ordinal","title":null,"scale":{"type":"point","padding":0.65,"domain":["Vehicle","0.001 μM","0.01 μM","0.1 μM"]}},"y":{"field":"v","type":"quantitative"},"text":{"field":"s"},"color":{"value":"black"}}}
]}]}
]},
{"title":{"text":"Line 4","fontSize":15.5,"offset":8,"dx":-17,"anchor":"middle","frame":"bounds"},"spacing":18,"hconcat":[
{"title":{"text":"M","anchor":"start","frame":"bounds","fontSize":17,"offset":-4},"vconcat":[{"title":{"text":"Nifedipine","anchor":"middle","fontSize":13.5,"offset":-12},"width":134,"height":119,"data":{"name":"pts"},"transform":[{"filter":"datum.p==='M'"}],
"encoding":{"color":{"field":"g","type":"nominal","title":null,"scale":{"domain":["Fresh","Recovered"],"range":["#000000","#0000ff"]}}},
"layer":[
{"mark":{"type":"rule","strokeDash":[1.5,2],"strokeWidth":1.2},"encoding":{"y":{"datum":0,"type":"quantitative","scale":{"domain":[-50,50],"nice":false,"zero":false},"axis":{"title":"FPDc change (%)","values":[-50,0,50],"tickCount":10,"domain":true,"ticks":true,"minExtent":22,"maxExtent":22,"titlePadding":1}},"color":{"value":"black"}}},
{"mark":"rule","encoding":{"x":{"field":"d","type":"ordinal","title":null,"scale":{"type":"point","padding":0.65,"domain":["Vehicle","0.01 μM","0.1 μM","1 μM"]}},"y":{"field":"lo","type":"quantitative"},"y2":{"field":"hi"}}},
{"mark":{"type":"tick","size":8,"thickness":1.5},"encoding":{"x":{"field":"d","type":"ordinal","title":null,"scale":{"type":"point","padding":0.65,"domain":["Vehicle","0.01 μM","0.1 μM","1 μM"]}},"y":{"field":"lo","type":"quantitative"}}},
{"mark":{"type":"tick","size":8,"thickness":1.5},"encoding":{"x":{"field":"d","type":"ordinal","title":null,"scale":{"type":"point","padding":0.65,"domain":["Vehicle","0.01 μM","0.1 μM","1 μM"]}},"y":{"field":"hi","type":"quantitative"}}},
{"mark":"line","encoding":{"x":{"field":"d","type":"ordinal","title":null,"scale":{"type":"point","padding":0.65,"domain":["Vehicle","0.01 μM","0.1 μM","1 μM"]}},"y":{"field":"v","type":"quantitative"}}},
{"mark":"circle","encoding":{"x":{"field":"d","type":"ordinal","title":null,"scale":{"type":"point","padding":0.65,"domain":["Vehicle","0.01 μM","0.1 μM","1 μM"]},"axis":{"domain":true,"ticks":true}},"y":{"field":"v","type":"quantitative"}}}
]}]},
{"title":{"text":"N","anchor":"start","frame":"bounds","fontSize":17,"offset":-4},"vconcat":[{"title":{"text":"Ibutilide","anchor":"middle","fontSize":13.5,"offset":-12},"width":134,"height":119,"data":{"name":"pts"},"transform":[{"filter":"datum.p==='N'"}],
"encoding":{"color":{"field":"g","type":"nominal","title":null,"scale":{"domain":["Fresh","Recovered"],"range":["#000000","#0000ff"]}}},
"layer":[
{"mark":{"type":"rule","strokeDash":[1.5,2],"strokeWidth":1.2},"encoding":{"y":{"datum":0,"type":"quantitative","scale":{"domain":[-100,300],"nice":false,"zero":false},"axis":{"title":"FPDc change (%)","values":[-100,0,100,200,300],"tickCount":10,"domain":true,"ticks":true,"minExtent":21,"maxExtent":21,"titlePadding":0}},"color":{"value":"black"}}},
{"mark":"rule","encoding":{"x":{"field":"d","type":"ordinal","title":null,"scale":{"type":"point","padding":0.65,"domain":["Vehicle","0.002 μM","0.02 μM","0.2 μM"]}},"y":{"field":"lo","type":"quantitative"},"y2":{"field":"hi"}}},
{"mark":{"type":"tick","size":8,"thickness":1.5},"encoding":{"x":{"field":"d","type":"ordinal","title":null,"scale":{"type":"point","padding":0.65,"domain":["Vehicle","0.002 μM","0.02 μM","0.2 μM"]}},"y":{"field":"lo","type":"quantitative"}}},
{"mark":{"type":"tick","size":8,"thickness":1.5},"encoding":{"x":{"field":"d","type":"ordinal","title":null,"scale":{"type":"point","padding":0.65,"domain":["Vehicle","0.002 μM","0.02 μM","0.2 μM"]}},"y":{"field":"hi","type":"quantitative"}}},
{"mark":"line","encoding":{"x":{"field":"d","type":"ordinal","title":null,"scale":{"type":"point","padding":0.65,"domain":["Vehicle","0.002 μM","0.02 μM","0.2 μM"]}},"y":{"field":"v","type":"quantitative"}}},
{"mark":"circle","encoding":{"x":{"field":"d","type":"ordinal","title":null,"scale":{"type":"point","padding":0.65,"domain":["Vehicle","0.002 μM","0.02 μM","0.2 μM"]},"axis":{"domain":true,"ticks":true}},"y":{"field":"v","type":"quantitative"}}},
{"data":{"name":"stars"},"transform":[{"filter":"datum.p==='N'"}],"mark":{"type":"text","fontSize":14,"baseline":"middle","dy":3},"encoding":{"x":{"field":"d","type":"ordinal","title":null,"scale":{"type":"point","padding":0.65,"domain":["Vehicle","0.002 μM","0.02 μM","0.2 μM"]}},"y":{"field":"v","type":"quantitative"},"text":{"field":"s"},"color":{"value":"black"}}}
]}]},
{"title":{"text":"O","anchor":"start","frame":"bounds","fontSize":17,"offset":-4},"vconcat":[{"title":{"text":"Sunitinib","anchor":"middle","fontSize":13.5,"offset":-12},"width":134,"height":119,"data":{"name":"pts"},"transform":[{"filter":"datum.p==='O'"}],
"encoding":{"color":{"field":"g","type":"nominal","title":null,"scale":{"domain":["Fresh","Recovered"],"range":["#000000","#0000ff"]}}},
"layer":[
{"mark":{"type":"rule","strokeDash":[1.5,2],"strokeWidth":1.2},"encoding":{"y":{"datum":0,"type":"quantitative","scale":{"domain":[-50,100],"nice":false,"zero":false},"axis":{"title":"FPDc change (%)","values":[-50,0,50,100],"tickCount":10,"domain":true,"ticks":true,"minExtent":20,"maxExtent":20,"titlePadding":15}},"color":{"value":"black"}}},
{"mark":"rule","encoding":{"x":{"field":"d","type":"ordinal","title":null,"scale":{"type":"point","padding":0.65,"domain":["Vehicle","0.03 μM","0.3 μM","3 μM"]}},"y":{"field":"lo","type":"quantitative"},"y2":{"field":"hi"}}},
{"mark":{"type":"tick","size":8,"thickness":1.5},"encoding":{"x":{"field":"d","type":"ordinal","title":null,"scale":{"type":"point","padding":0.65,"domain":["Vehicle","0.03 μM","0.3 μM","3 μM"]}},"y":{"field":"lo","type":"quantitative"}}},
{"mark":{"type":"tick","size":8,"thickness":1.5},"encoding":{"x":{"field":"d","type":"ordinal","title":null,"scale":{"type":"point","padding":0.65,"domain":["Vehicle","0.03 μM","0.3 μM","3 μM"]}},"y":{"field":"hi","type":"quantitative"}}},
{"mark":"line","encoding":{"x":{"field":"d","type":"ordinal","title":null,"scale":{"type":"point","padding":0.65,"domain":["Vehicle","0.03 μM","0.3 μM","3 μM"]}},"y":{"field":"v","type":"quantitative"}}},
{"mark":"circle","encoding":{"x":{"field":"d","type":"ordinal","title":null,"scale":{"type":"point","padding":0.65,"domain":["Vehicle","0.03 μM","0.3 μM","3 μM"]},"axis":{"domain":true,"ticks":true}},"y":{"field":"v","type":"quantitative"}}},
{"data":{"name":"stars"},"transform":[{"filter":"datum.p==='O'"}],"mark":{"type":"text","fontSize":14,"baseline":"middle","dy":3},"encoding":{"x":{"field":"d","type":"ordinal","title":null,"scale":{"type":"point","padding":0.65,"domain":["Vehicle","0.03 μM","0.3 μM","3 μM"]}},"y":{"field":"v","type":"quantitative"},"text":{"field":"s"},"color":{"value":"black"}}}
]}]},
{"title":{"text":"P","anchor":"start","frame":"bounds","fontSize":17,"offset":-4},"vconcat":[{"title":{"text":"E4031","anchor":"middle","fontSize":13.5,"offset":-12},"width":134,"height":119,"data":{"name":"pts"},"transform":[{"filter":"datum.p==='P'"}],
"encoding":{"color":{"field":"g","type":"nominal","title":null,"scale":{"domain":["Fresh","Recovered"],"range":["#000000","#0000ff"]}}},
"layer":[
{"mark":{"type":"rule","strokeDash":[1.5,2],"strokeWidth":1.2},"encoding":{"y":{"datum":0,"type":"quantitative","scale":{"domain":[-50,150],"nice":false,"zero":false},"axis":{"title":"FPDc change (%)","values":[-50,0,50,100,150],"tickCount":10,"domain":true,"ticks":true,"minExtent":21,"maxExtent":21,"titlePadding":4}},"color":{"value":"black"}}},
{"mark":"rule","encoding":{"x":{"field":"d","type":"ordinal","title":null,"scale":{"type":"point","padding":0.65,"domain":["Vehicle","0.001 μM","0.01 μM","0.1 μM"]}},"y":{"field":"lo","type":"quantitative"},"y2":{"field":"hi"}}},
{"mark":{"type":"tick","size":8,"thickness":1.5},"encoding":{"x":{"field":"d","type":"ordinal","title":null,"scale":{"type":"point","padding":0.65,"domain":["Vehicle","0.001 μM","0.01 μM","0.1 μM"]}},"y":{"field":"lo","type":"quantitative"}}},
{"mark":{"type":"tick","size":8,"thickness":1.5},"encoding":{"x":{"field":"d","type":"ordinal","title":null,"scale":{"type":"point","padding":0.65,"domain":["Vehicle","0.001 μM","0.01 μM","0.1 μM"]}},"y":{"field":"hi","type":"quantitative"}}},
{"mark":"line","encoding":{"x":{"field":"d","type":"ordinal","title":null,"scale":{"type":"point","padding":0.65,"domain":["Vehicle","0.001 μM","0.01 μM","0.1 μM"]}},"y":{"field":"v","type":"quantitative"}}},
{"mark":"circle","encoding":{"x":{"field":"d","type":"ordinal","title":null,"scale":{"type":"point","padding":0.65,"domain":["Vehicle","0.001 μM","0.01 μM","0.1 μM"]},"axis":{"domain":true,"ticks":true}},"y":{"field":"v","type":"quantitative"}}},
{"data":{"name":"stars"},"transform":[{"filter":"datum.p==='P'"}],"mark":{"type":"text","fontSize":14,"baseline":"middle","dy":3},"encoding":{"x":{"field":"d","type":"ordinal","title":null,"scale":{"type":"point","padding":0.65,"domain":["Vehicle","0.001 μM","0.01 μM","0.1 μM"]}},"y":{"field":"v","type":"quantitative"},"text":{"field":"s"},"color":{"value":"black"}}}
]}]}
]},
{"title":{"text":"Line 5","fontSize":15.5,"offset":8,"dx":-17,"anchor":"middle","frame":"bounds"},"spacing":18,"hconcat":[
{"title":{"text":"Q","anchor":"start","frame":"bounds","fontSize":17,"offset":-4},"vconcat":[{"title":{"text":"Nifedipine","anchor":"middle","fontSize":13.5,"offset":-12},"width":134,"height":119,"data":{"name":"pts"},"transform":[{"filter":"datum.p==='Q'"}],
"encoding":{"color":{"field":"g","type":"nominal","title":null,"scale":{"domain":["Fresh","Recovered"],"range":["#000000","#0000ff"]}}},
"layer":[
{"mark":{"type":"rule","strokeDash":[1.5,2],"strokeWidth":1.2},"encoding":{"y":{"datum":0,"type":"quantitative","scale":{"domain":[-100,50],"nice":false,"zero":false},"axis":{"title":"FPDc change (%)","values":[-100,-50,0,50],"tickCount":10,"domain":true,"ticks":true,"minExtent":22,"maxExtent":22,"titlePadding":1}},"color":{"value":"black"}}},
{"mark":"line","encoding":{"x":{"field":"d","type":"ordinal","title":null,"scale":{"type":"point","padding":0.65,"domain":["Vehicle","0.01 μM","0.1 μM","1 μM"]}},"y":{"field":"v","type":"quantitative"}}},
{"mark":"circle","encoding":{"x":{"field":"d","type":"ordinal","title":null,"scale":{"type":"point","padding":0.65,"domain":["Vehicle","0.01 μM","0.1 μM","1 μM"]},"axis":{"domain":true,"ticks":true}},"y":{"field":"v","type":"quantitative"}}},
{"data":{"name":"xs"},"transform":[{"filter":"datum.p==='Q'"}],"mark":{"type":"text","text":"X","fontSize":12,"fontWeight":"bold","baseline":"middle"},"encoding":{"x":{"field":"d","type":"ordinal","title":null,"scale":{"type":"point","padding":0.65,"domain":["Vehicle","0.01 μM","0.1 μM","1 μM"]}},"y":{"field":"v","type":"quantitative"},"color":{"value":"#0000ff"}}},
{"data":{"name":"stars"},"transform":[{"filter":"datum.p==='Q'"}],"mark":{"type":"text","fontSize":14,"baseline":"middle","dy":3},"encoding":{"x":{"field":"d","type":"ordinal","title":null,"scale":{"type":"point","padding":0.65,"domain":["Vehicle","0.01 μM","0.1 μM","1 μM"]}},"y":{"field":"v","type":"quantitative"},"text":{"field":"s"},"color":{"value":"black"}}}
]}]},
{"title":{"text":"R","anchor":"start","frame":"bounds","fontSize":17,"offset":-4},"vconcat":[{"title":{"text":"Ibutilide","anchor":"middle","fontSize":13.5,"offset":-12},"width":134,"height":119,"data":{"name":"pts"},"transform":[{"filter":"datum.p==='R'"}],
"encoding":{"color":{"field":"g","type":"nominal","title":null,"scale":{"domain":["Fresh","Recovered"],"range":["#000000","#0000ff"]}}},
"layer":[
{"mark":{"type":"rule","strokeDash":[1.5,2],"strokeWidth":1.2},"encoding":{"y":{"datum":0,"type":"quantitative","scale":{"domain":[0,400],"nice":false,"zero":false},"axis":{"title":"FPDc change (%)","values":[0,100,200,300,400],"tickCount":10,"domain":true,"ticks":true,"minExtent":21,"maxExtent":21,"titlePadding":0}},"color":{"value":"black"}}},
{"mark":"rule","encoding":{"x":{"field":"d","type":"ordinal","title":null,"scale":{"type":"point","padding":0.65,"domain":["Vehicle","0.002 μM","0.02 μM","0.2 μM"]}},"y":{"field":"lo","type":"quantitative"},"y2":{"field":"hi"}}},
{"mark":{"type":"tick","size":8,"thickness":1.5},"encoding":{"x":{"field":"d","type":"ordinal","title":null,"scale":{"type":"point","padding":0.65,"domain":["Vehicle","0.002 μM","0.02 μM","0.2 μM"]}},"y":{"field":"lo","type":"quantitative"}}},
{"mark":{"type":"tick","size":8,"thickness":1.5},"encoding":{"x":{"field":"d","type":"ordinal","title":null,"scale":{"type":"point","padding":0.65,"domain":["Vehicle","0.002 μM","0.02 μM","0.2 μM"]}},"y":{"field":"hi","type":"quantitative"}}},
{"mark":"line","encoding":{"x":{"field":"d","type":"ordinal","title":null,"scale":{"type":"point","padding":0.65,"domain":["Vehicle","0.002 μM","0.02 μM","0.2 μM"]}},"y":{"field":"v","type":"quantitative"}}},
{"mark":"circle","encoding":{"x":{"field":"d","type":"ordinal","title":null,"scale":{"type":"point","padding":0.65,"domain":["Vehicle","0.002 μM","0.02 μM","0.2 μM"]},"axis":{"domain":true,"ticks":true}},"y":{"field":"v","type":"quantitative"}}}
]}]},
{"title":{"text":"S","anchor":"start","frame":"bounds","fontSize":17,"offset":-4},"vconcat":[{"title":{"text":"Sunitinib","anchor":"middle","fontSize":13.5,"offset":-12},"width":134,"height":119,"data":{"name":"pts"},"transform":[{"filter":"datum.p==='S'"}],
"encoding":{"color":{"field":"g","type":"nominal","title":null,"scale":{"domain":["Fresh","Recovered"],"range":["#000000","#0000ff"]}}},
"layer":[
{"mark":{"type":"rule","strokeDash":[1.5,2],"strokeWidth":1.2},"encoding":{"y":{"datum":0,"type":"quantitative","scale":{"domain":[0,250],"nice":false,"zero":false},"axis":{"title":"FPDc change (%)","values":[0,50,100,150,200,250],"tickCount":10,"domain":true,"ticks":true,"minExtent":20,"maxExtent":20,"titlePadding":15}},"color":{"value":"black"}}},
{"mark":"rule","encoding":{"x":{"field":"d","type":"ordinal","title":null,"scale":{"type":"point","padding":0.65,"domain":["Vehicle","0.03 μM","0.3 μM","3 μM"]}},"y":{"field":"lo","type":"quantitative"},"y2":{"field":"hi"}}},
{"mark":{"type":"tick","size":8,"thickness":1.5},"encoding":{"x":{"field":"d","type":"ordinal","title":null,"scale":{"type":"point","padding":0.65,"domain":["Vehicle","0.03 μM","0.3 μM","3 μM"]}},"y":{"field":"lo","type":"quantitative"}}},
{"mark":{"type":"tick","size":8,"thickness":1.5},"encoding":{"x":{"field":"d","type":"ordinal","title":null,"scale":{"type":"point","padding":0.65,"domain":["Vehicle","0.03 μM","0.3 μM","3 μM"]}},"y":{"field":"hi","type":"quantitative"}}},
{"mark":"line","encoding":{"x":{"field":"d","type":"ordinal","title":null,"scale":{"type":"point","padding":0.65,"domain":["Vehicle","0.03 μM","0.3 μM","3 μM"]}},"y":{"field":"v","type":"quantitative"}}},
{"mark":"circle","encoding":{"x":{"field":"d","type":"ordinal","title":null,"scale":{"type":"point","padding":0.65,"domain":["Vehicle","0.03 μM","0.3 μM","3 μM"]},"axis":{"domain":true,"ticks":true}},"y":{"field":"v","type":"quantitative"}}},
{"data":{"name":"stars"},"transform":[{"filter":"datum.p==='S'"}],"mark":{"type":"text","fontSize":14,"baseline":"middle","dy":3},"encoding":{"x":{"field":"d","type":"ordinal","title":null,"scale":{"type":"point","padding":0.65,"domain":["Vehicle","0.03 μM","0.3 μM","3 μM"]}},"y":{"field":"v","type":"quantitative"},"text":{"field":"s"},"color":{"value":"black"}}}
]}]},
{"title":{"text":"T","anchor":"start","frame":"bounds","fontSize":17,"offset":-4},"vconcat":[{"title":{"text":"E4031","anchor":"middle","fontSize":13.5,"offset":-12},"width":134,"height":119,"data":{"name":"pts"},"transform":[{"filter":"datum.p==='T'"}],
"encoding":{"color":{"field":"g","type":"nominal","title":null,"scale":{"domain":["Fresh","Recovered"],"range":["#000000","#0000ff"]}}},
"layer":[
{"mark":{"type":"rule","strokeDash":[1.5,2],"strokeWidth":1.2},"encoding":{"y":{"datum":0,"type":"quantitative","scale":{"domain":[0,150],"nice":false,"zero":false},"axis":{"title":"FPDc change (%)","values":[0,50,100,150],"tickCount":10,"domain":true,"ticks":true,"minExtent":21,"maxExtent":21,"titlePadding":4}},"color":{"value":"black"}}},
{"mark":"rule","encoding":{"x":{"field":"d","type":"ordinal","title":null,"scale":{"type":"point","padding":0.65,"domain":["Vehicle","0.001 μM","0.01 μM","0.1 μM"]}},"y":{"field":"lo","type":"quantitative"},"y2":{"field":"hi"}}},
{"mark":{"type":"tick","size":8,"thickness":1.5},"encoding":{"x":{"field":"d","type":"ordinal","title":null,"scale":{"type":"point","padding":0.65,"domain":["Vehicle","0.001 μM","0.01 μM","0.1 μM"]}},"y":{"field":"lo","type":"quantitative"}}},
{"mark":{"type":"tick","size":8,"thickness":1.5},"encoding":{"x":{"field":"d","type":"ordinal","title":null,"scale":{"type":"point","padding":0.65,"domain":["Vehicle","0.001 μM","0.01 μM","0.1 μM"]}},"y":{"field":"hi","type":"quantitative"}}},
{"mark":"line","encoding":{"x":{"field":"d","type":"ordinal","title":null,"scale":{"type":"point","padding":0.65,"domain":["Vehicle","0.001 μM","0.01 μM","0.1 μM"]}},"y":{"field":"v","type":"quantitative"}}},
{"mark":"circle","encoding":{"x":{"field":"d","type":"ordinal","title":null,"scale":{"type":"point","padding":0.65,"domain":["Vehicle","0.001 μM","0.01 μM","0.1 μM"]},"axis":{"domain":true,"ticks":true}},"y":{"field":"v","type":"quantitative"}}},
{"data":{"name":"stars"},"transform":[{"filter":"datum.p==='T'"}],"mark":{"type":"text","fontSize":14,"baseline":"middle","dy":3},"encoding":{"x":{"field":"d","type":"ordinal","title":null,"scale":{"type":"point","padding":0.65,"domain":["Vehicle","0.001 μM","0.01 μM","0.1 μM"]}},"y":{"field":"v","type":"quantitative"},"text":{"field":"s"},"color":{"value":"black"}}}
]}]}
]}
]
}
